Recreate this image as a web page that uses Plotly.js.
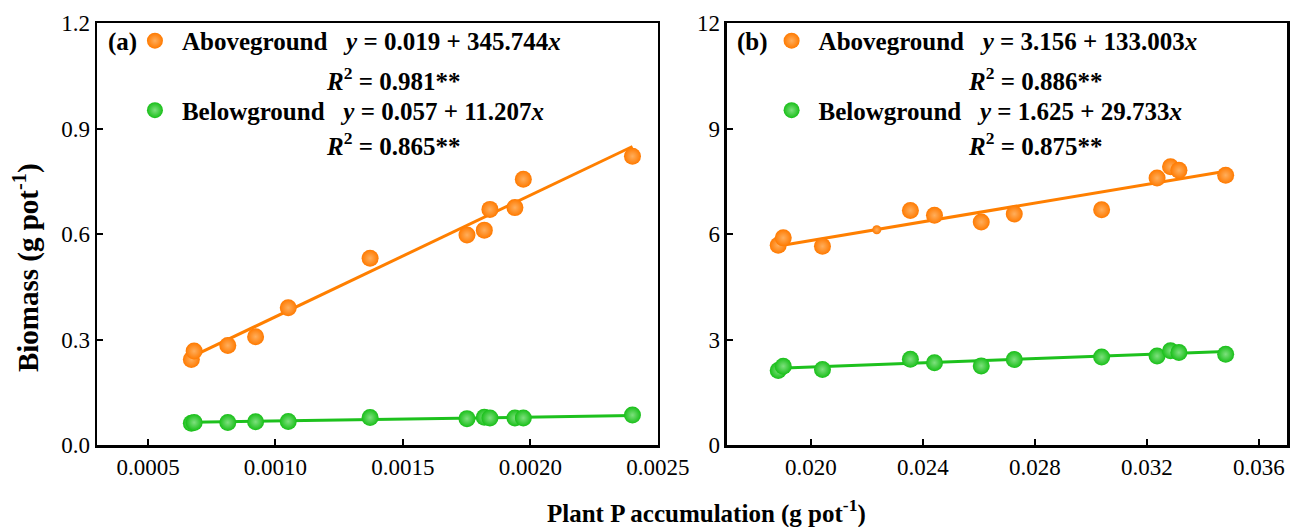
<!DOCTYPE html>
<html>
<head>
<meta charset="utf-8">
<script src="https://cdn.plot.ly/plotly-3.0.1.min.js"></script>
<style>html,body{margin:0;padding:0;background:#fff;}#chart{width:1290px;height:527px;}</style>
</head>
<body>
<div id="chart"></div>
<script>
// ---- data ----
// Panel (a)
const aX      = [0.000670, 0.000681, 0.000813, 0.000922, 0.001050, 0.001371, 0.001751, 0.001819, 0.001841, 0.001939, 0.001972, 0.002400];
const aAbove  = [0.243, 0.267, 0.283, 0.308, 0.390, 0.531, 0.597, 0.611, 0.670, 0.675, 0.756, 0.821];
const aBelow  = [0.062, 0.064, 0.064, 0.066, 0.067, 0.078, 0.075, 0.079, 0.077, 0.077, 0.077, 0.085];
const aFitAbove = [0.019, 345.744];   // intercept, slope
const aFitBelow = [0.057, 11.207];
const aR2 = ["0.981", "0.865"];
// Panel (b)
const bX      = [0.01883, 0.01901, 0.02041, 0.02355, 0.02441, 0.02608, 0.02726, 0.03038, 0.03236, 0.03284, 0.03314, 0.03481];
const bAbove  = [5.68, 5.89, 5.65, 6.67, 6.53, 6.34, 6.57, 6.69, 7.59, 7.91, 7.81, 7.67];
const bBelow  = [2.12, 2.24, 2.15, 2.44, 2.34, 2.25, 2.43, 2.50, 2.53, 2.68, 2.63, 2.58];
const bExtraX = [0.02235];
const bExtraY = [6.12];
const bFitAbove = [3.156, 133.003];
const bFitBelow = [1.625, 29.733];
const bR2 = ["0.886", "0.875"];
// Axis ticks
const aXTicks = [0.0005, 0.0010, 0.0015, 0.0020, 0.0025];
const aYTicks = [0.0, 0.3, 0.6, 0.9, 1.2];
const bXTicks = [0.020, 0.024, 0.028, 0.032, 0.036];
const bYTicks = [0, 3, 6, 9, 12];

// ---- styling ----
const FONT = 'Liberation Serif, Times New Roman, serif';
const ORANGE = '#FF7F00', ORANGE_M = '#FF7A00', ORANGE_HI = '#FFAE5C';
const GREEN = '#1DC11D', GREEN_M = '#18BF18', GREEN_HI = '#7EE07E';

function fitLine(xs, coef) {
  const x0 = Math.min(...xs), x1 = Math.max(...xs);
  return {x: [x0, x1], y: [coef[0] + coef[1]*x0, coef[0] + coef[1]*x1]};
}
function ball(color, hi, size) {
  return {color: color, size: size, line: {width: 0}, gradient: {type: 'radial', color: hi}};
}
function eqName(label, coef) {
  return label + '\u00a0\u00a0 <i>y</i> = ' + coef[0].toFixed(3) + ' + ' + coef[1].toFixed(3) + '<i>x</i>';
}

const la = fitLine(aX, aFitAbove), lb = fitLine(aX, aFitBelow);
const lc = fitLine(bX, bFitAbove), ld = fitLine(bX, bFitBelow);

const traces = [
  // panel a lines
  {x: la.x, y: la.y, mode: 'lines', line: {color: ORANGE, width: 3}, showlegend: false, xaxis: 'x', yaxis: 'y', hoverinfo: 'skip'},
  {x: lb.x, y: lb.y, mode: 'lines', line: {color: GREEN, width: 3}, showlegend: false, xaxis: 'x', yaxis: 'y', hoverinfo: 'skip'},
  // panel a points
  {x: aX, y: aAbove, mode: 'markers', marker: ball(ORANGE_M, ORANGE_HI, 17), name: eqName('Aboveground', aFitAbove),
   legend: 'legend', legendgroup: 'a1', xaxis: 'x', yaxis: 'y'},
  {x: aX, y: aBelow, mode: 'markers', marker: ball(GREEN_M, GREEN_HI, 17), name: eqName('Belowground', aFitBelow),
   legend: 'legend', legendgroup: 'a2', xaxis: 'x', yaxis: 'y'},
  // panel b lines
  {x: lc.x, y: lc.y, mode: 'lines', line: {color: ORANGE, width: 3}, showlegend: false, xaxis: 'x2', yaxis: 'y2', hoverinfo: 'skip'},
  {x: ld.x, y: ld.y, mode: 'lines', line: {color: GREEN, width: 3}, showlegend: false, xaxis: 'x2', yaxis: 'y2', hoverinfo: 'skip'},
  // panel b points
  {x: bX, y: bAbove, mode: 'markers', marker: ball(ORANGE_M, ORANGE_HI, 17), name: eqName('Aboveground', bFitAbove),
   legend: 'legend2', legendgroup: 'b1', xaxis: 'x2', yaxis: 'y2'},
  {x: bExtraX, y: bExtraY, mode: 'markers', marker: ball(ORANGE_M, ORANGE_HI, 9), showlegend: false, xaxis: 'x2', yaxis: 'y2'},
  {x: bX, y: bBelow, mode: 'markers', marker: ball(GREEN_M, GREEN_HI, 17), name: eqName('Belowground', bFitBelow),
   legend: 'legend2', legendgroup: 'b2', xaxis: 'x2', yaxis: 'y2'}
];

const axisBase = {
  showline: true, linecolor: 'black', linewidth: 2.5, mirror: true,
  ticks: 'inside', ticklen: 6, tickwidth: 2, tickcolor: 'black',
  showgrid: false, zeroline: false,
  tickfont: {family: FONT, size: 23, color: 'black'}
};

function legendCfg(xpx) {
  return {
    x: xpx, xref: 'paper', y: 1.012, yref: 'paper', xanchor: 'left', yanchor: 'top',
    bgcolor: 'rgba(0,0,0,0)', borderwidth: 0,
    font: {family: FONT, size: 25, color: 'black', weight: 'bold'},
    tracegroupgap: 34, itemwidth: 44, itemsizing: 'trace', traceorder: 'grouped'
  };
}

const annFont = {family: FONT, size: 25, color: 'black', weight: 'bold'};
function r2Ann(xref, xfrac, yfrac, val) {
  return {xref: xref, yref: 'paper', x: xfrac, y: yfrac, xanchor: 'center', yanchor: 'middle',
          text: '<i>R</i><sup>2</sup> = ' + val + '**', showarrow: false, font: annFont};
}

const layout = {
  width: 1290, height: 527,
  margin: {l: 97, r: 3, t: 23, b: 82},
  paper_bgcolor: 'white', plot_bgcolor: 'white',
  showlegend: true,
  xaxis: Object.assign({}, axisBase, {domain: [0, 0.4714], range: [0.0003, 0.0025], tickvals: aXTicks, tickformat: '.4f', anchor: 'y'}),
  yaxis: Object.assign({}, axisBase, {range: [0, 1.2], tickvals: aYTicks, tickformat: '.1f', anchor: 'x'}),
  xaxis2: Object.assign({}, axisBase, {domain: [0.5294, 1], range: [0.017, 0.037], tickvals: bXTicks, tickformat: '.3f', anchor: 'y2'}),
  yaxis2: Object.assign({}, axisBase, {range: [0, 12], tickvals: bYTicks, tickformat: 'd', anchor: 'x2'}),
  legend: legendCfg(0.026),
  legend2: legendCfg(0.561),
  annotations: [
    {xref: 'x domain', yref: 'paper', x: 0.016, y: 0.955, xanchor: 'left', yanchor: 'middle', text: '(a)', showarrow: false, font: annFont},
    {xref: 'x2 domain', yref: 'paper', x: 0.014, y: 0.955, xanchor: 'left', yanchor: 'middle', text: '(b)', showarrow: false, font: annFont},
    r2Ann('x domain', 0.527, 0.868, aR2[0]),
    r2Ann('x domain', 0.527, 0.714, aR2[1]),
    r2Ann('x2 domain', 0.550, 0.868, bR2[0]),
    r2Ann('x2 domain', 0.550, 0.714, bR2[1]),
    {xref: 'paper', yref: 'paper', x: 0.5126, y: -0.158, xanchor: 'center', yanchor: 'middle', showarrow: false,
     text: 'Plant P accumulation (g pot<sup>-1</sup>)', font: annFont},
    {xref: 'paper', yref: 'paper', x: -0.0594, y: 0.42, xanchor: 'center', yanchor: 'middle', showarrow: false, textangle: -90,
     text: 'Biomass (g pot<sup>-1</sup>)', font: {family: FONT, size: 29, color: 'black', weight: 'bold'}}
  ]
};

Plotly.newPlot('chart', traces, layout, {displayModeBar: false, staticPlot: true});
</script>
</body>
</html>
